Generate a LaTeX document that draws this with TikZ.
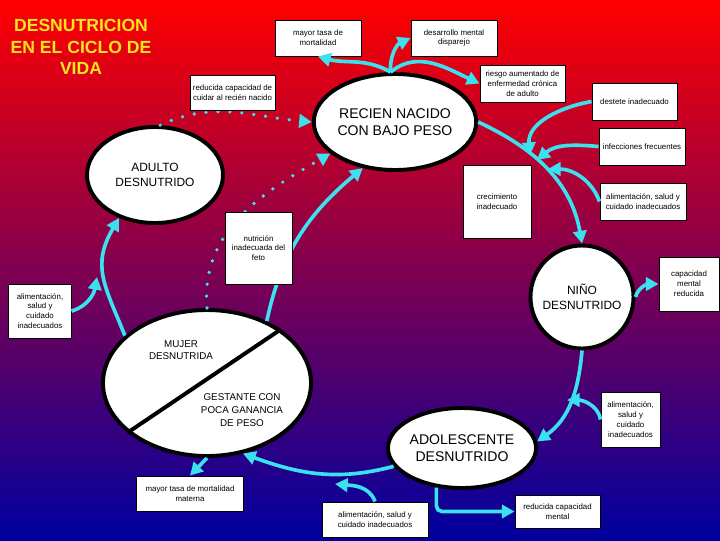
\documentclass[tikz,border=0pt]{standalone}
\usepackage{fontspec}
\setmainfont{Liberation Sans}
\usepackage{tikz}
\usetikzlibrary{arrows.meta,shapes.geometric}
\definecolor{BgRed}{RGB}{255,0,0}
\definecolor{BgPurple}{RGB}{160,0,128}
\definecolor{BgBlue}{RGB}{0,0,160}
\definecolor{LinkCyan}{RGB}{60,225,240}
\definecolor{TitleYellow}{RGB}{245,230,30}
\tikzset{
  stage/.style={ellipse,draw=black,fill=white,line width=2.8pt,inner sep=0pt,align=center,
    font=\fontsize{10}{12}\selectfont},
  smallstage/.style={stage,font=\fontsize{8.5}{10.5}\selectfont},
  note/.style={rectangle,draw=black,fill=white,line width=0.7pt,inner sep=1pt,align=center,
    font=\fontsize{5.6}{7}\selectfont},
  halftext/.style={align=center,inner sep=0pt,font=\fontsize{7}{9}\selectfont},
}
\tikzset{link/.style={draw=LinkCyan,line width=2.6pt,-{Triangle[length=9pt,width=9.5pt]}},
  dotlink/.style={link,line cap=round,dash pattern=on 0pt off 8.5pt},
  heading/.style={align=center,text=TitleYellow,font=\bfseries\fontsize{12.5}{15.3}\selectfont}}

\begin{document}
\begin{tikzpicture}[x=0.025cm,y=-0.025cm]
\shade[top color=BgRed,middle color=BgPurple,bottom color=BgBlue] (0,0) rectangle (720,540);
\useasboundingbox (0,0) rectangle (720,540);
\coordinate (t1) at (530,155);
\coordinate (t2) at (537,160);
\coordinate (t3) at (548,169);
\coordinate (t4) at (335,484);
\coordinate (t5) at (567,400);
\coordinate (t6) at (97,277);
\node[heading] (title) at (81,47) {DESNUTRICION\\EN EL CICLO DE\\VIDA};
\node[stage,minimum width=3.4cm,minimum height=2.4cm] (rn) at (395,122) {RECIEN NACIDO\\CON BAJO PESO};
\node[smallstage,minimum width=3.4cm,minimum height=2.4cm] (adulto) at (155,175) {ADULTO\\DESNUTRIDO};
\node[smallstage,circle,minimum size=2.575cm] (nino) at (582,297) {NIÑO\\DESNUTRIDO};
\node[stage,minimum width=5.2cm,minimum height=3.65cm] (mujer) at (207,383) {};
\node[stage,minimum width=3.05cm,minimum height=2cm] (adol) at (462,448) {ADOLESCENTE\\DESNUTRIDO};
\draw[line width=2.8pt] (mujer.36) -- (mujer.212);
\node[halftext] (mujtxt) at (181,350) {MUJER\\DESNUTRIDA};
\node[halftext] (gestxt) at (242,410) {GESTANTE CON\\POCA GANANCIA\\DE PESO};
\node[note,minimum width=2.15cm,minimum height=0.9cm] (mort) at (318,38) {mayor tasa de\\mortalidad};
\node[note,minimum width=2.15cm,minimum height=0.9cm] (desa) at (454,38) {desarrollo mental\\disparejo};
\node[note,minimum width=2.125cm,minimum height=0.925cm] (ries) at (522.5,83.5) {riesgo aumentado de\\enfermedad crónica\\de adulto};
\node[note,minimum width=2.125cm,minimum height=0.925cm] (dest) at (634.5,101.5) {destete inadecuado};
\node[note,minimum width=2.15cm,minimum height=0.925cm] (infe) at (642,146.5) {infecciones frecuentes};
\node[note,minimum width=1.7cm,minimum height=1.825cm] (crec) at (497,201.5) {crecimiento\\inadecuado};
\node[note,minimum width=2.15cm,minimum height=0.925cm] (alim1) at (643,201.5) {alimentación, salud y\\cuidado inadecuados};
\node[note,minimum width=1.5cm,minimum height=1.35cm] (capm) at (689,284) {capacidad\\mental\\reducida};
\node[note,minimum width=1.55cm,minimum height=1.35cm] (alim2) at (40,311) {alimentación,\\salud y\\cuidado\\inadecuados};
\node[note,minimum width=2.65cm,minimum height=0.875cm] (matr) at (190,493.5) {mayor tasa de mortalidad\\materna};
\node[note,minimum width=2.65cm,minimum height=0.875cm] (alim3) at (375,519.5) {alimentación, salud y\\cuidado inadecuados};
\node[note,minimum width=2.125cm,minimum height=0.825cm] (redm) at (557.5,511.5) {reducida capacidad\\mental};
\node[note,minimum width=1.475cm,minimum height=1.375cm] (alim4) at (630.5,419.5) {alimentación,\\salud y\\cuidado\\inadecuados};
\draw[link] (rn.east) to[out=-25,in=100] (nino.north);
\draw[link] (nino.south) to[out=-95,in=35] (adol.5);
\draw[link] (adol.195) to[out=195,in=-20] (mujer.-63);
\draw[link] (mujer.150) to[out=112,in=-120,looseness=1.2] (adulto.-130);
\draw[link] (mujer.46) to[out=78,in=-140] (rn.-125);
\draw[dotlink] (adulto.84) to[out=25,in=175] (rn.west);
\draw[dotlink] (mujer.north) to[out=95,in=-150] (rn.-154);
\draw[link] (rn.95) to[out=150,in=-15] (mort.south);
\draw[link] (rn.95) to[out=95,in=-155] (desa.west);
\draw[link] (rn.95) to[out=40,in=155] (ries.west);
\draw[link] (dest.west) to[out=190,in=95] (t1);
\draw[link] (infe.west) to[out=175,in=40] (t2);
\draw[link] (alim1.west) to[out=110,in=0] (t3);
\draw[link] (nino.east) to[out=75,in=180] (capm.west);
\draw[link] (alim2.east) to[out=15,in=-100] (t6);
\draw[link] (mujer.south) -- (matr.north);
\draw[link] (alim3.north) to[out=110,in=-5] (t4);
\draw[link,rounded corners=4pt] (adol.-123) |- (redm.west);
\draw[link] (alim4.west) to[out=100,in=0] (t5);
\node[note,minimum width=2.125cm,minimum height=0.875cm] (cuid) at (232.5,92.5) {reducida capacidad de\\cuidar al recién nacido};
\node[note,minimum width=1.675cm,minimum height=1.8cm] (feto) at (258.5,248) {nutrición\\inadecuada del\\feto};
\end{tikzpicture}
\end{document}
